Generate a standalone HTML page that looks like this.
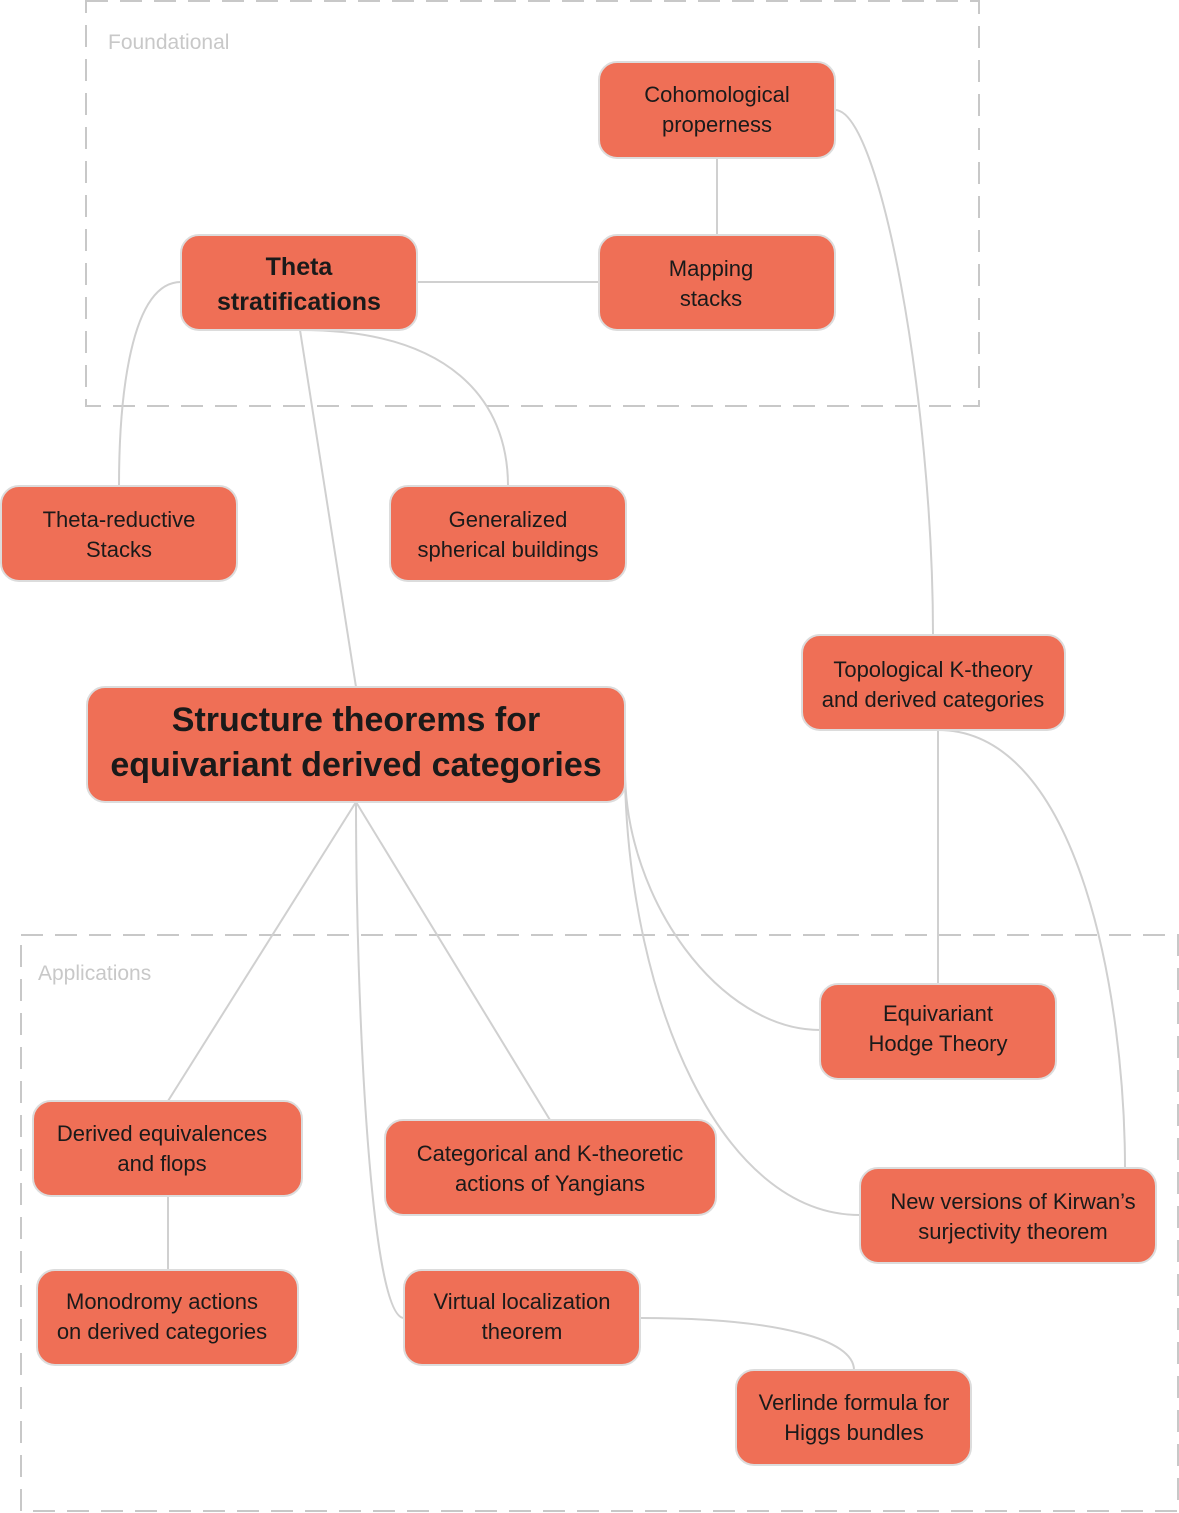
<!DOCTYPE html>
<html><head><meta charset="utf-8"><style>
html,body{margin:0;padding:0;background:#fff}
svg{display:block}
text{font-family:"Liberation Sans",sans-serif;fill:#1a1a1a}
.n{fill:#EF6F56;stroke:#dcdcdc;stroke-width:2}
.e{fill:none;stroke:#d0d0d0;stroke-width:2}
.g{fill:none;stroke:#c8c8c8;stroke-width:2;stroke-dasharray:22 12}
.t{font-size:22px;text-anchor:middle}
.gl{font-size:21px;fill:#c8c8c8}
</style></head><body>
<svg width="1179" height="1513" viewBox="0 0 1179 1513">
<rect class="g" x="86" y="1" width="893" height="405"/>
<rect class="g" x="21" y="935" width="1157" height="576"/>
<text class="gl" x="108" y="49">Foundational</text>
<text class="gl" x="38" y="980">Applications</text>

<path class="e" d="M717,158 L717,235"/>
<path class="e" d="M417,282 L599,282"/>
<path class="e" d="M835,110 C880,110 933,400 933,635"/>
<path class="e" d="M181,282 C130,282 119,400 119,486"/>
<path class="e" d="M300,330 C450,330 508,400 508,486"/>
<path class="e" d="M300,330 L356,687"/>
<path class="e" d="M938,730 L938,984"/>
<path class="e" d="M938,730 C1080,730 1125,1000 1125,1168"/>
<path class="e" d="M625,770 C625,900 720,1030 820,1030"/>
<path class="e" d="M625,780 C630,1000 720,1215 860,1215"/>
<path class="e" d="M356,802 L168,1101"/>
<path class="e" d="M356,802 L550,1120"/>
<path class="e" d="M356,802 C356,1000 370,1318 404,1318"/>
<path class="e" d="M168,1196 L168,1270"/>
<path class="e" d="M640,1318 C780,1318 854,1340 854,1370"/>

<rect class="n" x="599" y="62" width="236" height="96" rx="18"/>
<text class="t" x="717" y="102">Cohomological</text><text class="t" x="717" y="132">properness</text>
<rect class="n" x="599" y="235" width="236" height="95" rx="18"/>
<text class="t" x="711" y="276">Mapping</text><text class="t" x="711" y="306">stacks</text>
<rect class="n" x="181" y="235" width="236" height="95" rx="18"/>
<text class="t" x="299" y="275" style="font-size:25px;font-weight:bold">Theta</text><text class="t" x="299" y="310" style="font-size:25px;font-weight:bold">stratifications</text>
<rect class="n" x="1" y="486" width="236" height="95" rx="18"/>
<text class="t" x="119" y="527">Theta-reductive</text><text class="t" x="119" y="557">Stacks</text>
<rect class="n" x="390" y="486" width="236" height="95" rx="18"/>
<text class="t" x="508" y="527">Generalized</text><text class="t" x="508" y="557">spherical buildings</text>
<rect class="n" x="802" y="635" width="263" height="95" rx="18"/>
<text class="t" x="933" y="677">Topological K-theory</text><text class="t" x="933" y="707">and derived categories</text>
<rect class="n" x="87" y="687" width="538" height="115" rx="18"/>
<text class="t" x="356" y="731" style="font-size:34px;font-weight:bold">Structure theorems for</text><text class="t" x="356" y="776" style="font-size:34px;font-weight:bold">equivariant derived categories</text>
<rect class="n" x="820" y="984" width="236" height="95" rx="18"/>
<text class="t" x="938" y="1021">Equivariant</text><text class="t" x="938" y="1051">Hodge Theory</text>
<rect class="n" x="33" y="1101" width="269" height="95" rx="18"/>
<text class="t" x="162" y="1141">Derived equivalences</text><text class="t" x="162" y="1171">and flops</text>
<rect class="n" x="385" y="1120" width="331" height="95" rx="18"/>
<text class="t" x="550" y="1161">Categorical and K-theoretic</text><text class="t" x="550" y="1191">actions of Yangians</text>
<rect class="n" x="860" y="1168" width="296" height="95" rx="18"/>
<text class="t" x="1013" y="1209">New versions of Kirwan’s</text><text class="t" x="1013" y="1239">surjectivity theorem</text>
<rect class="n" x="37" y="1270" width="261" height="95" rx="18"/>
<text class="t" x="162" y="1309">Monodromy actions</text><text class="t" x="162" y="1339">on derived categories</text>
<rect class="n" x="404" y="1270" width="236" height="95" rx="18"/>
<text class="t" x="522" y="1309">Virtual localization</text><text class="t" x="522" y="1339">theorem</text>
<rect class="n" x="736" y="1370" width="235" height="95" rx="18"/>
<text class="t" x="854" y="1410">Verlinde formula for</text><text class="t" x="854" y="1440">Higgs bundles</text>
</svg>
</body></html>
